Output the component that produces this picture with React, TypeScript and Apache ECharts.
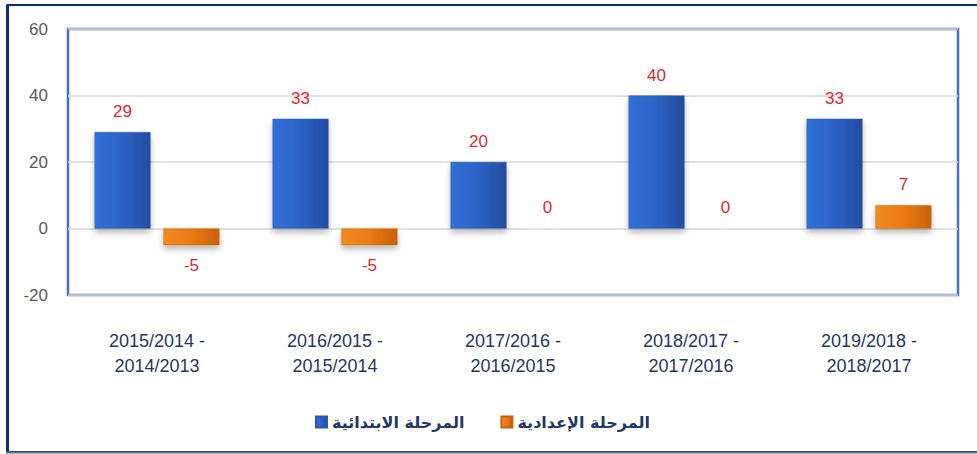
import React, { useEffect, useRef } from "react";
import * as echarts from "echarts";

const categories = [
  "2015/2014 -\n2014/2013",
  "2016/2015 -\n2015/2014",
  "2017/2016 -\n2016/2015",
  "2018/2017 -\n2017/2016",
  "2019/2018 -\n2018/2017",
];
const primaryName = "المرحلة الابتدائية";
const prepName = "المرحلة الإعدادية";
const primaryValues = [29, 33, 20, 40, 33];
const prepValues = [-5, -5, 0, 0, 7];
const yTicks = { min: -20, max: 60, interval: 20 };

const blueGrad = new echarts.graphic.LinearGradient(0, 0, 1, 0, [
  { offset: 0, color: "#3070D8" },
  { offset: 0.5, color: "#2C62C6" },
  { offset: 1, color: "#234C9E" },
]);
const orangeGrad = new echarts.graphic.LinearGradient(0, 0, 1, 0, [
  { offset: 0, color: "#F28A22" },
  { offset: 0.5, color: "#EA7A12" },
  { offset: 1, color: "#C9610A" },
]);

const labelStyle = {
  show: true,
  color: "#E0282C",
  fontSize: 17,
  fontFamily: "Liberation Sans, Arial, sans-serif",
  distance: 12,
};

function toData(values: number[]) {
  return values.map((v) => ({
    value: v,
    label: { position: v < 0 ? "bottom" : "top" },
  }));
}

export default function App() {
  const ref = useRef<HTMLDivElement>(null);
  useEffect(() => {
    const chart = echarts.init(ref.current!, null, { renderer: "svg" });
    const shadow = {
      shadowColor: "rgba(0,0,0,0.28)",
      shadowBlur: 6,
      shadowOffsetY: 4,
    };
    chart.setOption({
      animation: false,
      backgroundColor: "#ffffff",
      graphic: [
        {
          type: "rect",
          shape: { x: 7.5, y: 5, width: 1000, height: 447 },
          style: { fill: "none", stroke: "#0E2D6E", lineWidth: 2 },
          silent: true,
          z: 10,
        },
        {
          type: "rect",
          shape: { x: 6, y: 5, width: 3, height: 447 },
          style: { fill: "#0E2D6E" },
          silent: true,
          z: 10,
        },
        {
          type: "line",
          shape: { x1: 6, y1: 452.5, x2: 977, y2: 452.5 },
          style: { stroke: "#5B6A98", lineWidth: 2 },
          silent: true,
          z: 10,
        },
      ],
      grid: {
        left: 68,
        top: 29,
        right: 19,
        bottom: 159,
        show: true,
        borderColor: "#4472C4",
        borderWidth: 2.5,
        containLabel: false,
      },
      legend: {
        data: [primaryName, prepName],
        top: 409,
        left: 310,
        itemWidth: 11,
        itemHeight: 11,
        itemGap: 36,
        icon: "rect",
        textStyle: {
          color: "#1F3864",
          fontSize: 16,
          fontWeight: "bold",
          fontFamily: "DejaVu Sans, sans-serif",
        },
      },
      xAxis: {
        type: "category",
        data: categories,
        axisLine: { show: false },
        axisTick: { show: false },
        axisLabel: {
          color: "#1F3864",
          fontSize: 18,
          lineHeight: 25,
          margin: 33,
          fontFamily: "Liberation Sans, Arial, sans-serif",
        },
      },
      yAxis: {
        type: "value",
        min: yTicks.min,
        max: yTicks.max,
        interval: yTicks.interval,
        axisLine: { show: false },
        axisTick: { show: false },
        splitLine: { lineStyle: { color: "#D9D9D9", width: 1.5 } },
        axisLabel: {
          color: "#595959",
          fontSize: 17,
          margin: 20,
          fontFamily: "Liberation Sans, Arial, sans-serif",
        },
      },
      series: [
        {
          name: primaryName,
          type: "bar",
          data: toData(primaryValues),
          barWidth: 56,
          barGap: "23%",
          itemStyle: { color: blueGrad, borderColor: "#2A58B0", borderWidth: 0.5, ...shadow },
          label: labelStyle,
        },
        {
          name: prepName,
          type: "bar",
          data: toData(prepValues),
          barWidth: 56,
          barGap: "23%",
          itemStyle: { color: orangeGrad, borderColor: "#C9610A", borderWidth: 0.5, ...shadow },
          label: labelStyle,
        },
      ],
    });
    return () => chart.dispose();
  }, []);
  return (
    <div
      ref={ref}
      style={{ position: "fixed", left: 0, top: 0, width: 977, height: 454 }}
    />
  );
}
